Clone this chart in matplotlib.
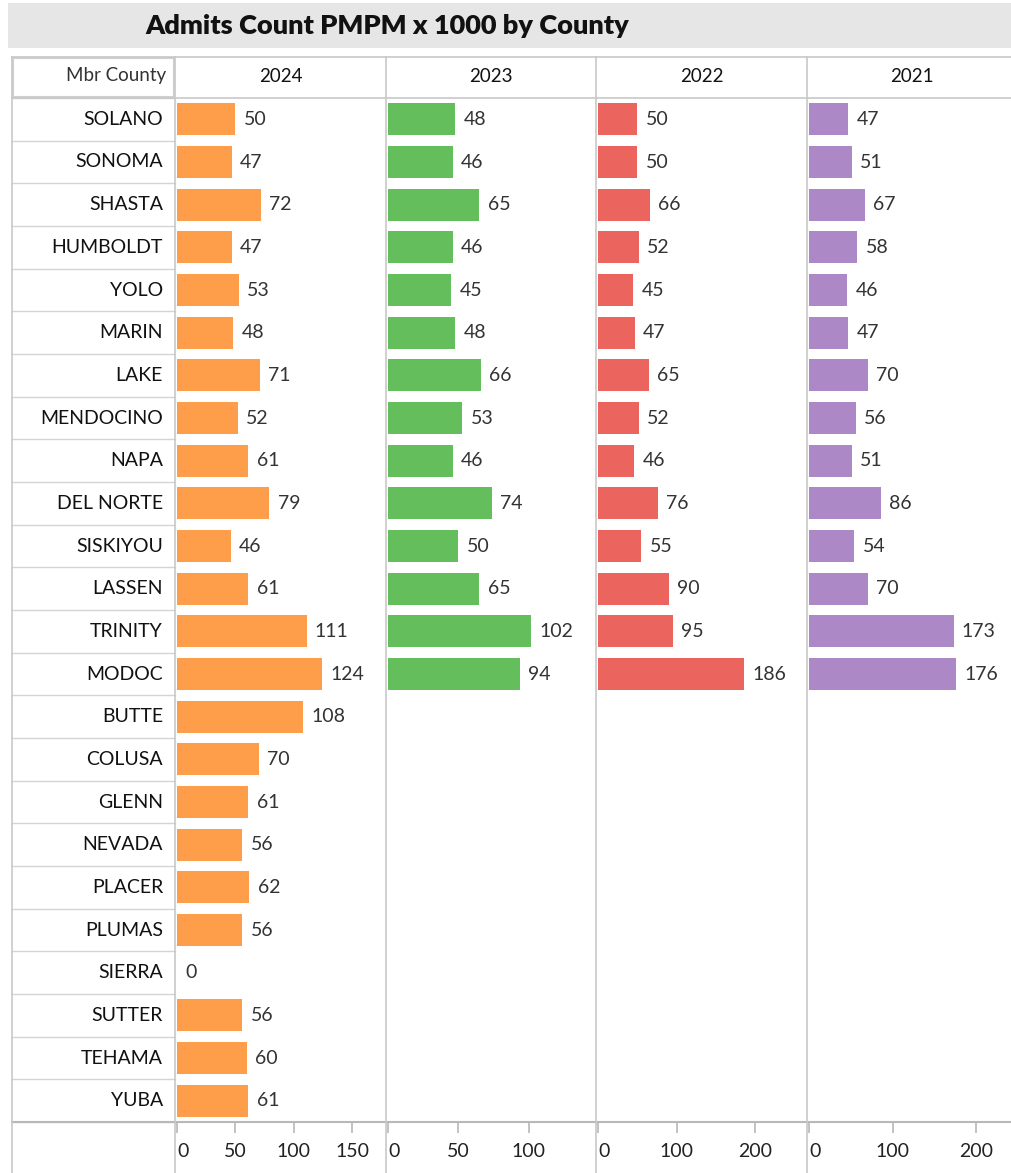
import matplotlib.pyplot as plt
from matplotlib.lines import Line2D
from matplotlib.patches import Rectangle

# Data
counties = ["SOLANO", "SONOMA", "SHASTA", "HUMBOLDT", "YOLO", "MARIN", "LAKE",
            "MENDOCINO", "NAPA", "DEL NORTE", "SISKIYOU", "LASSEN", "TRINITY",
            "MODOC", "BUTTE", "COLUSA", "GLENN", "NEVADA", "PLACER", "PLUMAS",
            "SIERRA", "SUTTER", "TEHAMA", "YUBA"]
years = ["2024", "2023", "2022", "2021"]
vals_2024 = [50, 47, 72, 47, 53, 48, 71, 52, 61, 79, 46, 61, 111, 124, 108,
             70, 61, 56, 62, 56, 0, 56, 60, 61]
vals_2023 = [48, 46, 65, 46, 45, 48, 66, 53, 46, 74, 50, 65, 102, 94]
vals_2022 = [50, 50, 66, 52, 45, 47, 65, 52, 46, 76, 55, 90, 95, 186]
vals_2021 = [47, 51, 67, 58, 46, 47, 70, 56, 51, 86, 54, 70, 173, 176]
all_vals = [vals_2024, vals_2023, vals_2022, vals_2021]
colors = ["#FF9E4A", "#64BE5C", "#EC645E", "#AD88C6"]
xlims = [179, 148, 266, 250]
ticks = [[0, 50, 100, 150], [0, 50, 100], [0, 100, 200], [0, 100, 200]]

W, H = 1012, 1173
plt.rcParams["font.family"] = ["Lato", "DejaVu Sans"]
fig = plt.figure(figsize=(W / 100, H / 100), dpi=100)

def px_axes(x0, y0, x1, y1):
    return fig.add_axes([x0 / W, 1 - y1 / H, (x1 - x0) / W, (y1 - y0) / H])

def hline(y, x0, x1, color="#c8c8c8", lw=1.2):
    fig.add_artist(Line2D([x0 / W, x1 / W], [1 - y / H, 1 - y / H],
                          color=color, lw=lw, transform=fig.transFigure))

def vline(x, y0, y1, color="#c8c8c8", lw=1.2):
    fig.add_artist(Line2D([x / W, x / W], [1 - y0 / H, 1 - y1 / H],
                          color=color, lw=lw, transform=fig.transFigure))

# title bar
fig.add_artist(Rectangle((8 / W, 1 - 48 / H), (W - 8) / W, 45 / H,
                         transform=fig.transFigure, color="#e6e6e6", lw=0))
fig.text(387 / W, 1 - 26 / H, "Admits Count PMPM x 1000 by County",
         ha="center", va="center", fontsize=19.5, fontweight="heavy", color="#111111")

top, bot = 98, 1122
edges = [175, 386, 596, 807, 1018]
n = len(counties)

# county column
for i, c in enumerate(counties):
    yc = top + (i + 0.5) * (bot - top) / n
    fig.text(163 / W, 1 - yc / H, c, ha="right", va="center",
             fontsize=14, color="#111111")
for i in range(n + 1):
    y = top + i * (bot - top) / n
    hline(y, 12, 175, color="#d4d4d4", lw=1)

# header row
fig.add_artist(Rectangle((13 / W, 1 - 97 / H), 161 / W, 39 / H,
                         transform=fig.transFigure, facecolor="white",
                         edgecolor="#d0d0d0", lw=1.5))
fig.text(166 / W, 1 - 76 / H, "Mbr County", ha="right", va="center",
         fontsize=13.5, color="#333333")
hline(57, 12, W)
hline(top, 12, W)
hline(bot, 12, W, color="#b8b8b8", lw=1.5)
vline(12, 57, H)

for k in range(4):
    x0, x1 = edges[k], edges[k + 1]
    fig.text((x0 + x1) / 2 / W if k < 3 else (x0 + 210 / 2) / W, 1 - 77 / H,
             years[k], ha="center", va="center", fontsize=13.5, color="#111111")
    ax = px_axes(x0 + 2, top, x1, bot)
    vals = all_vals[k]
    ax.barh(range(len(vals)), vals, height=0.75, color=colors[k])
    for i, v in enumerate(vals):
        ax.annotate(str(v), (v, i), xytext=(6, 0), textcoords="offset points",
                    ha="left", va="center", fontsize=14, color="#333333")
    ax.set_xlim(0, xlims[k])
    ax.set_ylim(n - 0.5, -0.5)
    ax.set_yticks([])
    ax.set_xticks(ticks[k])
    ax.set_xticklabels([str(t) for t in ticks[k]])
    ax.tick_params(axis="x", direction="out", length=8, width=1.2, color="#b8b8b8",
                   labelsize=14, labelcolor="#222222", pad=7)
    ax.get_xticklabels()[0].set_ha("left")
    for s in ax.spines.values():
        s.set_visible(False)
    ax.patch.set_alpha(0)
    vline(x0, 57, H)

fig.savefig("out.png", dpi=100)
